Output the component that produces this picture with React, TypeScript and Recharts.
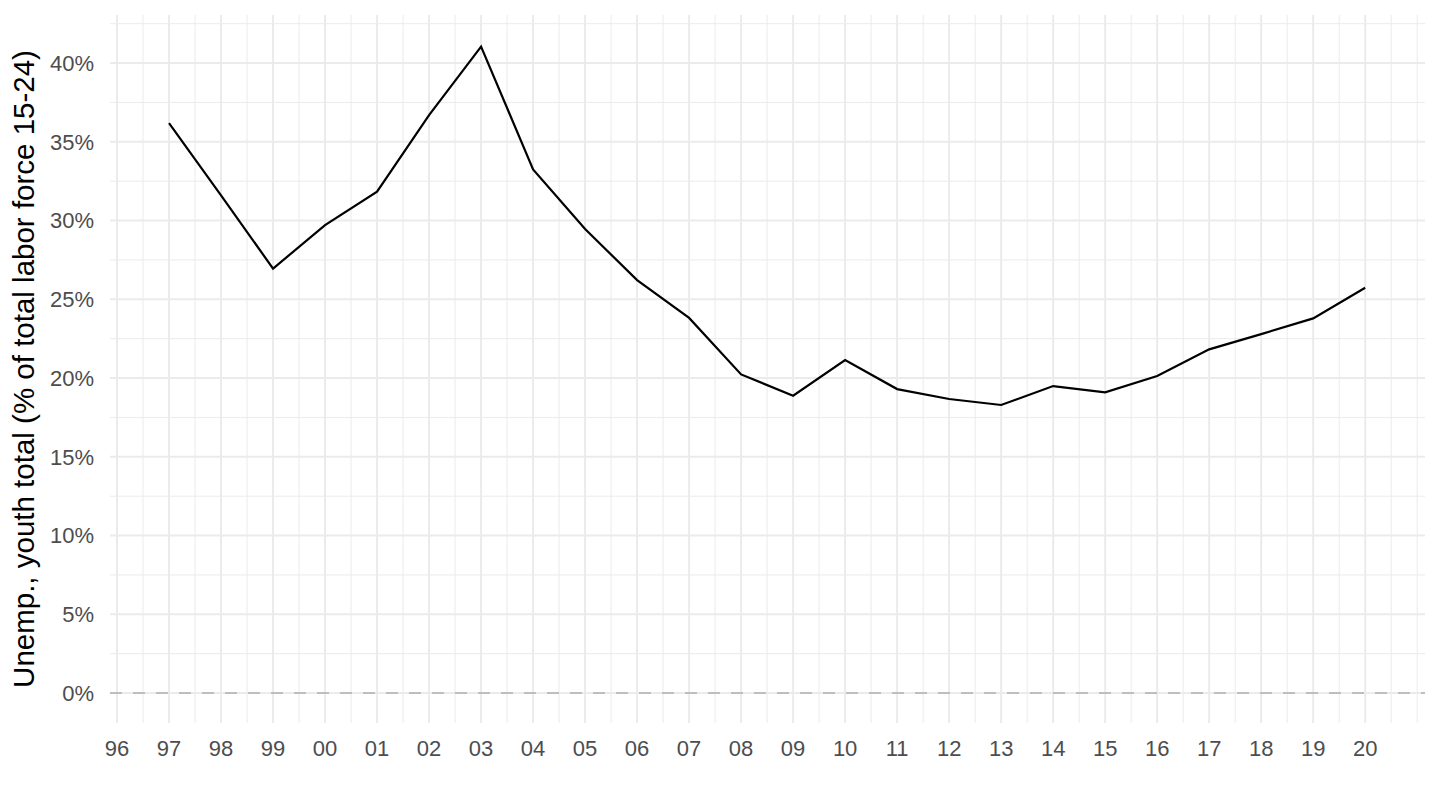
import { LineChart, Line, XAxis, YAxis, CartesianGrid, ReferenceLine } from 'recharts';

const years = [
  1997, 1998, 1999, 2000, 2001, 2002, 2003, 2004, 2005, 2006, 2007, 2008,
  2009, 2010, 2011, 2012, 2013, 2014, 2015, 2016, 2017, 2018, 2019, 2020,
];
const youthUnemp = [
  36.19, 31.6, 26.95, 29.71, 31.83, 36.7, 41.04, 33.25, 29.46, 26.22, 23.82, 20.23,
  18.88, 21.14, 19.3, 18.67, 18.29, 19.49, 19.09, 20.13, 21.82, 22.79, 23.79, 25.73,
];
const xTicks = [
  1996, 1997, 1998, 1999, 2000, 2001, 2002, 2003, 2004, 2005, 2006, 2007, 2008,
  2009, 2010, 2011, 2012, 2013, 2014, 2015, 2016, 2017, 2018, 2019, 2020,
];
const yTicks = [0, 5, 10, 15, 20, 25, 30, 35, 40];
const xMinor = [1996.5, 1997.5, 1998.5, 1999.5, 2000.5, 2001.5, 2002.5, 2003.5, 2004.5,
  2005.5, 2006.5, 2007.5, 2008.5, 2009.5, 2010.5, 2011.5, 2012.5, 2013.5, 2014.5,
  2015.5, 2016.5, 2017.5, 2018.5, 2019.5, 2020.5, 2021];
const yMinor = [2.5, 7.5, 12.5, 17.5, 22.5, 27.5, 32.5, 37.5, 42.5];

const data = years.map((year, i) => ({ year, value: youthUnemp[i] }));

const FONT = '"Liberation Sans", Arial, Helvetica, sans-serif';
const GRID = '#EBEBEB';

export default function App() {
  return (
    <div style={{ position: 'absolute', left: 0, top: 0, width: 1440, height: 810, background: '#fff' }}>
      <LineChart
        width={1440}
        height={810}
        data={data}
        margin={{ top: 15, right: 15, left: 0, bottom: 0 }}
        style={{ fontFamily: FONT }}
      >
        {/* minor grid, then major grid on top */}
        <CartesianGrid
          stroke={GRID}
          strokeWidth={1}
          verticalValues={xMinor}
          horizontalValues={yMinor}
          syncWithTicks
        />
        <CartesianGrid
          stroke={GRID}
          strokeWidth={2}
          verticalValues={xTicks}
          horizontalValues={yTicks}
          syncWithTicks
        />
        <XAxis
          dataKey="year"
          type="number"
          domain={[1995.865, 2021.15]}
          ticks={xTicks}
          interval={0}
          allowDataOverflow
          tickFormatter={(v: number) => String(v).slice(2)}
          tick={{ fontSize: 22, fill: '#4D4D4D', fontFamily: FONT }}
          tickLine={false}
          axisLine={false}
          tickSize={6}
          tickMargin={11}
          height={87}
        />
        <YAxis
          type="number"
          domain={[-1.9, 43.05]}
          ticks={yTicks}
          interval={0}
          allowDataOverflow
          tickFormatter={(v: number) => `${v}%`}
          tick={{ fontSize: 22, fill: '#4D4D4D', fontFamily: FONT }}
          tickLine={false}
          axisLine={false}
          tickSize={6}
          tickMargin={10}
          width={110}
          label={{
            value: 'Unemp., youth total (% of total labor force 15-24)',
            angle: -90,
            position: 'insideLeft',
            offset: 0,
            dx: 24,
            style: { textAnchor: 'middle', fontSize: 29.5, fill: '#000', fontFamily: FONT },
          }}
        />
        <ReferenceLine y={0} stroke="#BEBEBE" strokeWidth={2} strokeDasharray="12 11" />
        <Line
          type="linear"
          dataKey="value"
          stroke="#000"
          strokeWidth={2.2}
          dot={false}
          isAnimationActive={false}
        />
      </LineChart>
    </div>
  );
}
